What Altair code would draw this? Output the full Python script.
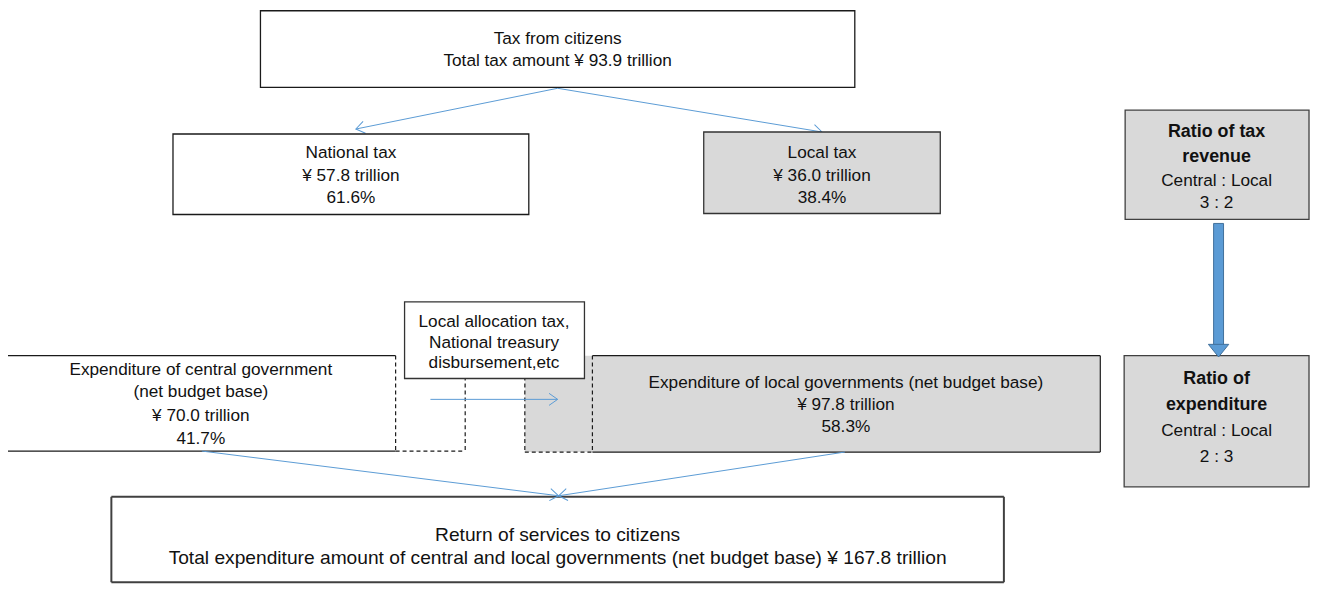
import altair as alt
import pandas as pd
import numpy as np

# ---- content (text / values) ----
tax_total = ["Tax from citizens", "Total tax amount ¥ 93.9 trillion"]
national_tax = ["National tax", "¥ 57.8 trillion", "61.6%"]
local_tax = ["Local tax", "¥ 36.0 trillion", "38.4%"]
central_exp = ["Expenditure of central government", "(net budget base)", "¥ 70.0 trillion", "41.7%"]
local_exp = ["Expenditure of local governments (net budget base)", "¥ 97.8 trillion", "58.3%"]
allocation = ["Local allocation tax,", "National treasury", "disbursement,etc"]
services = ["Return of services to citizens",
            "Total expenditure amount of central and local governments (net budget base) ¥ 167.8 trillion"]
ratio_rev_title = ["Ratio of tax", "revenue"]
ratio_rev_body = ["Central : Local", "3  :  2"]
ratio_exp_title = ["Ratio of", "expenditure"]
ratio_exp_body = ["Central : Local", "2  :  3"]

# ---- layout (pixel geometry of the diagram) ----
W, H = 1311, 577
X0, Y0 = 8, 8
GRAY = "#d9d9d9"
BLUE = "#5b9bd5"

fills = pd.DataFrame([
    (528, 1107, 356, 453, GRAY),
], columns=["x1", "x2", "y1", "y2", "fill"])

boxes = pd.DataFrame([
    (262, 860, 9, 86, "white", "#1a1a1a"),
    (174, 532, 133, 214, "white", "#1a1a1a"),
    (708, 946, 131, 213, GRAY, "#333333"),
    (1132, 1317, 109, 219, GRAY, "#404040"),
    (1131, 1317, 356, 488, GRAY, "#404040"),
    (407, 588, 302, 379, "white", "#333333"),
], columns=["x1", "x2", "y1", "y2", "fill", "stroke"])

edges = pd.DataFrame([
    (7, 356, 398, 356, "solid"), (7, 452, 398, 452, "solid"), (7, 356, 7, 452, "solid"),
    (398, 356, 398, 452, "dash"), (398, 452, 468, 452, "dash"), (468, 356, 468, 452, "dash"),
    (596, 356, 1107, 356, "solid"), (596, 453, 1107, 453, "solid"), (1107, 356, 1107, 453, "solid"),
    (596, 356, 596, 453, "dash"), (528, 453, 596, 453, "dash"), (528, 356, 528, 453, "dash"),
], columns=["x1", "y1", "x2", "y2", "style"])

service_box = pd.DataFrame([
    (112, 498, 1010, 498), (112, 584, 1010, 584),
    (112, 498, 112, 584), (1010, 498, 1010, 584),
], columns=["x1", "y1", "x2", "y2"])

connectors = pd.DataFrame([
    (561, 87, 358, 128), (561, 87, 827, 131),
    (433, 400, 561, 400),
    (203, 452, 562, 497), (850, 453, 562, 497),
], columns=["x1", "y1", "x2", "y2"])
connectors["angle"] = (np.degrees(np.arctan2(connectors.y2 - connectors.y1,
                                              connectors.x2 - connectors.x1)) % 360)

def lines(texts, cx, ys):
    return [dict(text=t, x=cx, y=y) for t, y in zip(texts, ys)]

normal_rows = []
normal_rows += lines(tax_total, 561, [37, 60])
normal_rows += lines(national_tax, 353, [152, 175, 197])
normal_rows += lines(local_tax, 827, [152, 175, 197])
normal_rows += lines(ratio_rev_body, 1224, [180, 202])
normal_rows += lines(ratio_exp_body, 1224, [432, 458])
normal_rows += lines(central_exp, 202, [370, 393, 417, 440])
normal_rows += lines(local_exp, 851, [384, 406, 428])
normal_rows += lines(allocation, 497, [322, 343, 363])
bold_rows = []
bold_rows += lines(ratio_rev_title, 1224, [131, 156])
bold_rows += lines(ratio_exp_title, 1224, [380, 406])
big_rows = lines(services, 561, [537, 560])
normal_texts = pd.DataFrame(normal_rows)
bold_texts = pd.DataFrame(bold_rows)
big_texts = pd.DataFrame(big_rows)

big_arrow = pd.DataFrame([dict(x1=1221, x2=1231, y1=223, y2=345, hx=1226, hy=351)])

FONT = "'Liberation Sans', Arial, sans-serif"
FS = 17.3

xs = alt.Scale(domain=[X0, X0 + W], range=[0, W], nice=False, zero=False)
ys = alt.Scale(domain=[Y0, Y0 + H], range=[0, H], nice=False, zero=False)
X = lambda f: alt.X(f, type="quantitative", scale=xs, axis=None)
Y = lambda f: alt.Y(f, type="quantitative", scale=ys, axis=None)

fill_layer = alt.Chart(fills).mark_rect(strokeWidth=0).encode(
    x=X("x1"), x2="x2", y=Y("y1"), y2="y2",
    fill=alt.Fill("fill:N", scale=None))

solid_edges = alt.Chart(edges[edges["style"] == "solid"]).mark_rule(
    color="#1a1a1a", strokeWidth=1.2).encode(x=X("x1"), y=Y("y1"), x2="x2", y2="y2")
dash_edges = alt.Chart(edges[edges["style"] == "dash"]).mark_rule(
    color="#1a1a1a", strokeWidth=1.2, strokeDash=[4, 3]).encode(x=X("x1"), y=Y("y1"), x2="x2", y2="y2")
service_edges = alt.Chart(service_box).mark_rule(
    color="#404040", strokeWidth=2).encode(x=X("x1"), y=Y("y1"), x2="x2", y2="y2")

box_layer = alt.Chart(boxes).mark_rect(strokeWidth=1.3).encode(
    x=X("x1"), x2="x2", y=Y("y1"), y2="y2",
    stroke=alt.Stroke("stroke:N", scale=None),
    fill=alt.Fill("fill:N", scale=None))

conn_lines = alt.Chart(connectors).mark_rule(color=BLUE, strokeWidth=1).encode(
    x=X("x1"), y=Y("y1"), x2="x2", y2="y2")
conn_heads = alt.Chart(connectors).mark_point(
    shape="M -1 -0.7 L 0 0 L -1 0.7", filled=False, color=BLUE, strokeWidth=1, size=300, opacity=1
).encode(x=X("x2"), y=Y("y2"), angle=alt.Angle("angle:Q", scale=None))

shaft = alt.Chart(big_arrow).mark_rect(fill=BLUE, stroke="#41719c", strokeWidth=1).encode(
    x=X("x1"), x2="x2", y=Y("y1"), y2="y2")
head = alt.Chart(big_arrow).mark_point(
    shape="M -1 -0.62 L 1 -0.62 L 0 0.62 Z", filled=True, fill=BLUE, stroke="#41719c",
    strokeWidth=1, size=420, opacity=1
).encode(x=X("hx"), y=Y("hy"))

text_normal = alt.Chart(normal_texts).mark_text(
    font=FONT, fontSize=FS, color="#111111", align="center", baseline="middle"
).encode(x=X("x"), y=Y("y"), text="text:N")
text_bold = alt.Chart(bold_texts).mark_text(
    font=FONT, fontSize=18, fontWeight="bold", color="#111111", align="center", baseline="middle"
).encode(x=X("x"), y=Y("y"), text="text:N")
text_big = alt.Chart(big_texts).mark_text(
    font=FONT, fontSize=19.3, color="#111111", align="center", baseline="middle"
).encode(x=X("x"), y=Y("y"), text="text:N")

chart = alt.layer(
    fill_layer, solid_edges, dash_edges, service_edges, conn_lines, conn_heads,
    box_layer, shaft, head, text_normal, text_bold, text_big
).properties(width=W, height=H, padding=0, autosize=alt.AutoSizeParams(type="none")
).configure_view(stroke=None)

chart.save("out.html", embed_options={"renderer": "svg", "actions": False})
